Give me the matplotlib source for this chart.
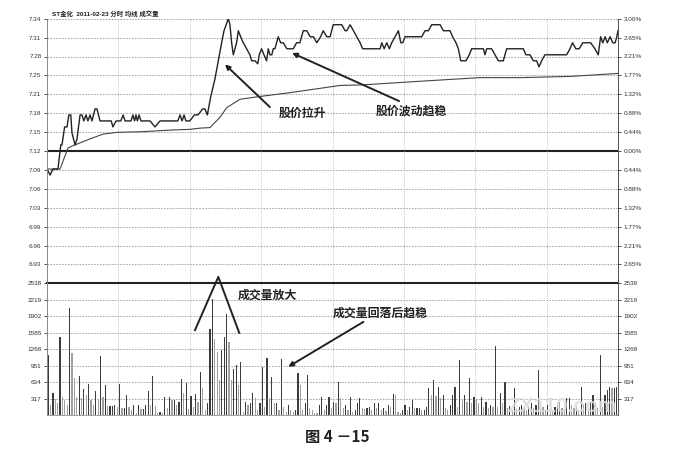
import numpy as np
import matplotlib.pyplot as plt

plt.rcParams['font.family'] = ['Liberation Sans', 'Noto Sans CJK SC', 'DejaVu Sans']

# price line (minute, price)
price_t = [0, 1.3, 2.5, 4.6, 5.8, 6.3, 7.4, 8.4, 9.2, 10, 10.5, 11.8, 12.6, 13.9, 14.7,
           15.5, 16.4, 17.2, 18.1, 18.9, 20.2, 21, 22.3, 27, 27.7, 29, 31, 32, 32.8,
           35.3, 36.1, 36.8, 37.4, 38, 38.7, 39.5, 43.3, 45.4, 47.5, 55, 55.9, 56.8,
           57.6, 58.4, 60, 62, 63.5, 65.4, 66.4, 67.4, 68.8, 70.6, 72, 73.4, 74.4,
           76.2, 76.9, 77.6, 78.3, 79.7, 80.4, 81.4, 82.5, 83.9, 85.3, 86, 87.4, 88.6,
           89.2, 90.2, 91.2, 92.3, 93, 93.7, 94.5, 95.1, 95.8, 97.2, 98.2, 99.3, 100.8,
           102.1, 103.5, 104.9, 106.3, 107.7, 109.2, 110.6, 112, 113.4, 115, 116.1,
           117.6, 119, 120.3, 123.9, 125.3, 126, 127.4, 128.8, 130.2, 131.6, 132.7,
           140, 140.7, 141.7, 142.8, 143.9, 144.9, 146.3, 147.7, 148.7, 149.5, 150.5,
           157.5, 158.9, 160.3, 161.7, 165.2, 166.6, 168.3, 169.4, 170.5, 171.9, 172.9,
           173.9, 176.1, 177.5, 178.5, 183.4, 184.1, 184.8, 186.9, 188.3, 189.7, 191.8,
           193.2, 200.2, 201.3, 203, 204.4, 205.8, 206.8, 207.9, 209.3, 218.4, 219.8,
           220.9, 222.3, 223.7, 225.2, 228.5, 230.3, 231.7, 232.7, 233.6, 234.6, 235.5,
           236.7, 237.8, 238.8, 239.5, 240]
price_v = [7.09, 7.08, 7.09, 7.09, 7.13, 7.13, 7.16, 7.16, 7.18, 7.18, 7.15, 7.13, 7.14,
           7.18, 7.18, 7.17, 7.18, 7.17, 7.18, 7.17, 7.19, 7.19, 7.17, 7.17, 7.16, 7.17,
           7.17, 7.18, 7.17, 7.17, 7.18, 7.17, 7.18, 7.17, 7.18, 7.17, 7.17, 7.16, 7.17,
           7.17, 7.18, 7.17, 7.18, 7.17, 7.17, 7.18, 7.18, 7.19, 7.19, 7.18, 7.21, 7.24,
           7.27, 7.30, 7.32, 7.34, 7.33, 7.30, 7.28, 7.30, 7.32, 7.31, 7.30, 7.29, 7.28,
           7.27, 7.27, 7.265, 7.28, 7.29, 7.28, 7.27, 7.29, 7.28, 7.28, 7.29, 7.29, 7.31,
           7.30, 7.30, 7.29, 7.29, 7.29, 7.30, 7.30, 7.32, 7.32, 7.31, 7.31, 7.30, 7.31,
           7.32, 7.31, 7.31, 7.33, 7.33, 7.32, 7.32, 7.33, 7.32, 7.31, 7.30, 7.29, 7.29,
           7.30, 7.29, 7.30, 7.29, 7.30, 7.31, 7.32, 7.30, 7.30, 7.31, 7.31, 7.32, 7.32,
           7.33, 7.33, 7.32, 7.32, 7.32, 7.31, 7.30, 7.29, 7.27, 7.27, 7.28, 7.29, 7.29,
           7.28, 7.29, 7.29, 7.28, 7.27, 7.27, 7.29, 7.29, 7.28, 7.28, 7.27, 7.27, 7.26,
           7.27, 7.28, 7.28, 7.29, 7.30, 7.29, 7.29, 7.30, 7.30, 7.29, 7.28, 7.31, 7.30,
           7.31, 7.30, 7.31, 7.30, 7.30, 7.31, 7.32]

# average price line
avg_t = [0, 5.5, 8.8, 10.4, 18, 23.5, 29.3, 39.1, 53, 60, 64.3, 68.5, 72.7, 75.5, 81.1,
         88.2, 102.1, 123.2, 132.8, 161, 182, 198.8, 219.8, 240]
avg_v = [7.09, 7.09, 7.125, 7.128, 7.14, 7.148, 7.151, 7.152, 7.155, 7.156, 7.158, 7.159,
         7.176, 7.192, 7.206, 7.21, 7.217, 7.229, 7.23, 7.237, 7.242, 7.242, 7.244, 7.249]

# volume per minute (240 bars)
volume = [1150, 190, 417, 300, 225, 1503, 352, 288, 192, 2068, 1196, 704, 340, 749, 320,
          500, 384, 590, 288, 192, 467, 288, 1139, 340, 576, 173, 173, 173, 192, 160,
          595, 128, 140, 384, 147, 96, 192, 32, 192, 109, 109, 192, 460, 192, 749, 173,
          32, 64, 45, 340, 128, 340, 288, 288, 192, 256, 685, 416, 608, 120,
          365, 160, 403, 256, 832, 512, 96, 224, 1664, 2240, 1472, 1216, 672, 1261, 1503,
          1952, 1407, 672, 877, 960, 576, 1024, 64, 256, 192, 224, 428, 320, 96, 224,
          928, 160, 1107, 320, 723, 224, 236, 96, 1088, 160, 64, 192, 96, 64, 96, 800,
          576, 96, 224, 768, 128, 96, 45, 32, 192, 352, 96, 192, 352, 128, 256,
          224, 640,
          320, 128, 192, 96, 352, 60, 96, 224, 320, 128, 120, 128, 150, 96, 224, 128,
          236, 96, 128, 80, 192, 160, 403, 384, 64, 40, 100, 192, 96, 160, 288, 128,
          128, 140, 96, 96, 160, 512, 384, 672, 365, 544, 320, 384, 140, 96, 192, 384,
          544, 160, 1056, 288, 384, 256, 704, 224, 352, 300, 224, 352, 160, 256, 128,
          192, 150, 1325, 160, 416, 224, 640, 128, 180, 96, 512, 120, 160, 200, 128, 96,
          160, 224, 128, 192, 864, 256, 150, 96, 192, 128, 96, 160, 224, 256, 128, 96,
          320, 320, 192, 128, 160, 96, 544, 192, 224, 128, 256, 384, 224, 128, 1152, 160,
          384, 480, 544, 512, 512, 544]

pre_close = 7.12
step = 0.03143
left_labels = ['6.93', '6.96', '6.99', '7.03', '7.06', '7.09', '7.12',
               '7.15', '7.18', '7.21', '7.25', '7.28', '7.31', '7.34']
right_labels = ['2.65%', '2.21%', '1.77%', '1.32%', '0.88%', '0.44%', '0.00%',
                '0.44%', '0.88%', '1.32%', '1.77%', '2.21%', '2.65%', '3.00%']
vol_labels = ['317', '634', '951', '1268', '1585', '1902', '2219', '2538']
vol_top = 2538

W, H = 691, 455
fig = plt.figure(figsize=(W / 100, H / 100), dpi=100)
x0, x1 = 47, 618
y_top, y_mid, y_bot = 18.7, 283.3, 415
axp = fig.add_axes([x0 / W, 1 - y_mid / H, (x1 - x0) / W, (y_mid - y_top) / H])
axv = fig.add_axes([x0 / W, 1 - y_bot / H, (x1 - x0) / W, (y_bot - y_mid) / H])

grid_col = '#9a9a9a'
tick_kw = dict(labelsize=4.6, colors='#333333', length=2.5, width=0.6, pad=1.5)

# price panel
lo = pre_close - 7 * step
hi = pre_close + 7 * step
ticks = [pre_close + k * step for k in range(-6, 8)]
axp.set_xlim(0, 240)
axp.set_ylim(lo, hi)
for y in ticks:
    if abs(y - pre_close) < 1e-6:
        axp.axhline(y, color='#222222', lw=1.5, zorder=1)
    else:
        axp.axhline(y, color=grid_col, lw=0.6, ls=(0, (2, 1.5)), zorder=1)
for t in range(30, 240, 30):
    axp.axvline(t, color='#b0b0b0', lw=0.6, ls=(0, (1, 1.5)), zorder=1)
axp.plot(price_t, price_v, color='#222222', lw=1.0, zorder=3)
axp.plot(avg_t, avg_v, color='#444444', lw=0.8, zorder=2)

axp.set_yticks(ticks)
axp.set_yticklabels(left_labels)
axp.set_xticks([])
axp.tick_params(axis='y', left=False, **tick_kw)
axp2 = axp.twinx()
axp2.set_ylim(lo, hi)
axp2.set_yticks(ticks)
axp2.set_yticklabels(right_labels)
axp2.tick_params(axis='y', right=True, direction='out', **tick_kw)
for a in (axp, axp2):
    a.spines['top'].set_visible(False)
    a.spines['bottom'].set_visible(False)
    a.spines['left'].set_color('#888888')
    a.spines['left'].set_linewidth(0.6)
    a.spines['right'].set_color('#555555')
    a.spines['right'].set_linewidth(0.7)

# volume panel
vol_ticks = [vol_top * k / 8 for k in range(1, 9)]
axv.set_xlim(0, 240)
axv.set_ylim(0, vol_top)
for v in vol_ticks[:-1]:
    axv.axhline(v, color=grid_col, lw=0.6, ls=(0, (2, 1.5)), zorder=1)
axv.axhline(vol_top, color='#222222', lw=1.5, zorder=4, clip_on=False)
for t in range(30, 240, 30):
    axv.axvline(t, color='#b0b0b0', lw=0.6, ls=(0, (1, 1.5)), zorder=1)
idx = np.arange(len(volume))
vol = np.array(volume)
prev = np.concatenate([[0], vol[:-1]])
colors = np.where(vol >= prev, '#3c3c3c', '#a0a0a0')
axv.bar(idx + 0.5, vol, width=0.5, color=colors, zorder=2)

axv.set_yticks(vol_ticks)
axv.set_yticklabels(vol_labels)
axv.set_xticks([])
axv.tick_params(axis='y', left=False, **tick_kw)
axv2 = axv.twinx()
axv2.set_ylim(0, vol_top)
axv2.set_yticks(vol_ticks)
axv2.set_yticklabels(vol_labels)
axv2.tick_params(axis='y', right=True, direction='out', **tick_kw)
for a in (axv, axv2):
    a.spines['top'].set_visible(False)
    a.spines['bottom'].set_color('#999999')
    a.spines['bottom'].set_linewidth(0.6)
    a.spines['bottom'].set_linestyle((0, (2, 1.5)))
    a.spines['left'].set_color('#888888')
    a.spines['left'].set_linewidth(0.6)
    a.spines['right'].set_color('#555555')
    a.spines['right'].set_linewidth(0.7)

# title
fig.text(52 / W, 1 - 13.5 / H, 'ST金化  2011-02-23 分时 均线 成交量', fontsize=4.6,
         color='#222222', va='center', ha='left', fontweight='bold')

# annotations
cjk = dict(family=['Noto Sans CJK SC', 'DejaVu Sans'], fontsize=8.6, fontweight='bold',
           color='#222222')
arrow = dict(arrowstyle='-|>', color='#222222', lw=1.4, mutation_scale=7,
             shrinkA=0, shrinkB=0)
axp.annotate('', xy=(74.8, 7.264), xytext=(93.7, 7.193), arrowprops=arrow, zorder=5)
axp.text(107.2, 7.182, '股价拉升', ha='center', va='center', zorder=5, **cjk)
axp.annotate('', xy=(103, 7.283), xytext=(148, 7.203), arrowprops=arrow, zorder=5)
axp.text(153, 7.187, '股价波动趋稳', ha='center', va='center', zorder=5, **cjk)

axv.plot([62.2, 72, 80.8], [1635, 2661, 1583], color='#222222', lw=1.4,
         clip_on=False, zorder=5)
axv.text(92.5, 2309, '成交量放大', ha='center', va='center', zorder=5, **cjk)
axv.annotate('', xy=(101.4, 929), xytext=(133, 1795), arrowprops=arrow, zorder=5)
axv.text(140, 1962, '成交量回落后趋稳', ha='center', va='center', zorder=5, **cjk)

# watermark
fig.text(562 / W, 1 - 406 / H, 'ZX110.com', fontsize=15, fontweight='bold',
         color='#dcdcdc', alpha=0.85, ha='center', va='center', zorder=10)

# caption
fig.text(337 / W, 1 - 437 / H, '图 4 －15', ha='center', va='center', fontsize=11,
         fontweight='bold', color='#222222',
         family=['Noto Sans CJK SC', 'DejaVu Sans'])

fig.savefig('out.png', dpi=100, facecolor='white')
